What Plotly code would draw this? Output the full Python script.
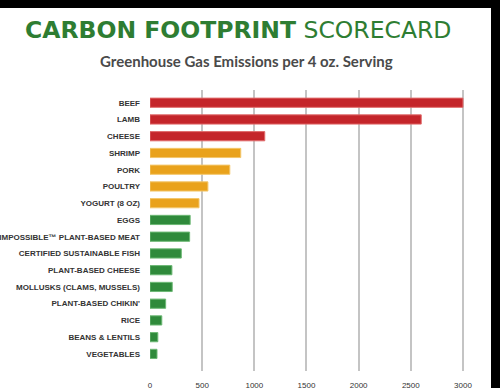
import plotly.graph_objects as go

categories = ["BEEF", "LAMB", "CHEESE", "SHRIMP", "PORK", "POULTRY", "YOGURT (8 OZ)", "EGGS",
              "IMPOSSIBLE™ PLANT-BASED MEAT", "CERTIFIED SUSTAINABLE FISH", "PLANT-BASED CHEESE",
              "MOLLUSKS (CLAMS, MUSSELS)", "PLANT-BASED CHIKIN'", "RICE", "BEANS & LENTILS", "VEGETABLES"]
values = [3000, 2600, 1100, 870, 765, 555, 470, 385, 380, 300, 210, 213, 150, 113, 75, 67]
levels = ["high"] * 3 + ["mid"] * 4 + ["low"] * 9
tick_values = [0, 500, 1000, 1500, 2000, 2500, 3000]

color_map = {"high": "#c4252a", "mid": "#e9a21c", "low": "#2f8a3b"}
line_map = {"high": "#e06a6a", "mid": "#f3c66a", "low": "#6cb874"}

fig = go.Figure(go.Bar(
    x=values, y=categories, orientation="h",
    marker=dict(color=[color_map[l] for l in levels],
                line=dict(color=[line_map[l] for l in levels], width=1)),
    width=0.55,
))

fig.update_layout(
    width=500, height=388,
    margin=dict(l=150, r=36, t=90, b=17),
    paper_bgcolor="white", plot_bgcolor="white",
    showlegend=False,
    font=dict(family="Liberation Sans"),
    xaxis=dict(range=[0, 3010], tickvals=tick_values, showgrid=True, gridcolor="#c4c4c4",
               gridwidth=1.5, zeroline=False, showline=False, automargin=False,
               tickfont=dict(size=8, color="#333333"), ticklabelstandoff=8),
    yaxis=dict(range=[16.02, -0.76], showgrid=False, zeroline=False, showline=False,
               automargin=False,
               tickfont=dict(size=8, color="#333333", family="Liberation Sans", weight="bold"),
               ticklabelstandoff=9),
)

fig.add_annotation(xref="paper", yref="paper", x=(237.5 - 150) / 314, y=(388 - 17 - 30) / 281,
                   text="<b>CARBON FOOTPRINT</b> SCORECARD", showarrow=False,
                   font=dict(family="DejaVu Sans", size=23.5, color="#2e7d32"),
                   xanchor="center", yanchor="middle")
fig.add_annotation(xref="paper", yref="paper", x=(246 - 150) / 314, y=(388 - 17 - 61) / 281,
                   text="<b>Greenhouse Gas Emissions per 4 oz. Serving</b>", showarrow=False,
                   font=dict(family="Lato", size=15, color="#4a4a4a"),
                   xanchor="center", yanchor="middle")

# black border bands (top and right) as in the reference photo
fig.add_annotation(xref="paper", yref="paper", x=(250 - 150) / 314, y=(388 - 17 - 8) / 281,
                   text=" ", showarrow=False, width=520, height=14, bgcolor="black",
                   borderpad=0, borderwidth=0, xanchor="center", yanchor="bottom",
                   font=dict(size=6, color="black"))
fig.add_shape(type="rect", xref="paper", yref="paper",
              x0=(491 - 150) / 314, x1=1.2, y0=-0.2, y1=1.4,
              fillcolor="black", line=dict(width=0), layer="above")

fig.write_html("out.html", config={"displayModeBar": False},
               post_script="document.body.style.margin='0';")
